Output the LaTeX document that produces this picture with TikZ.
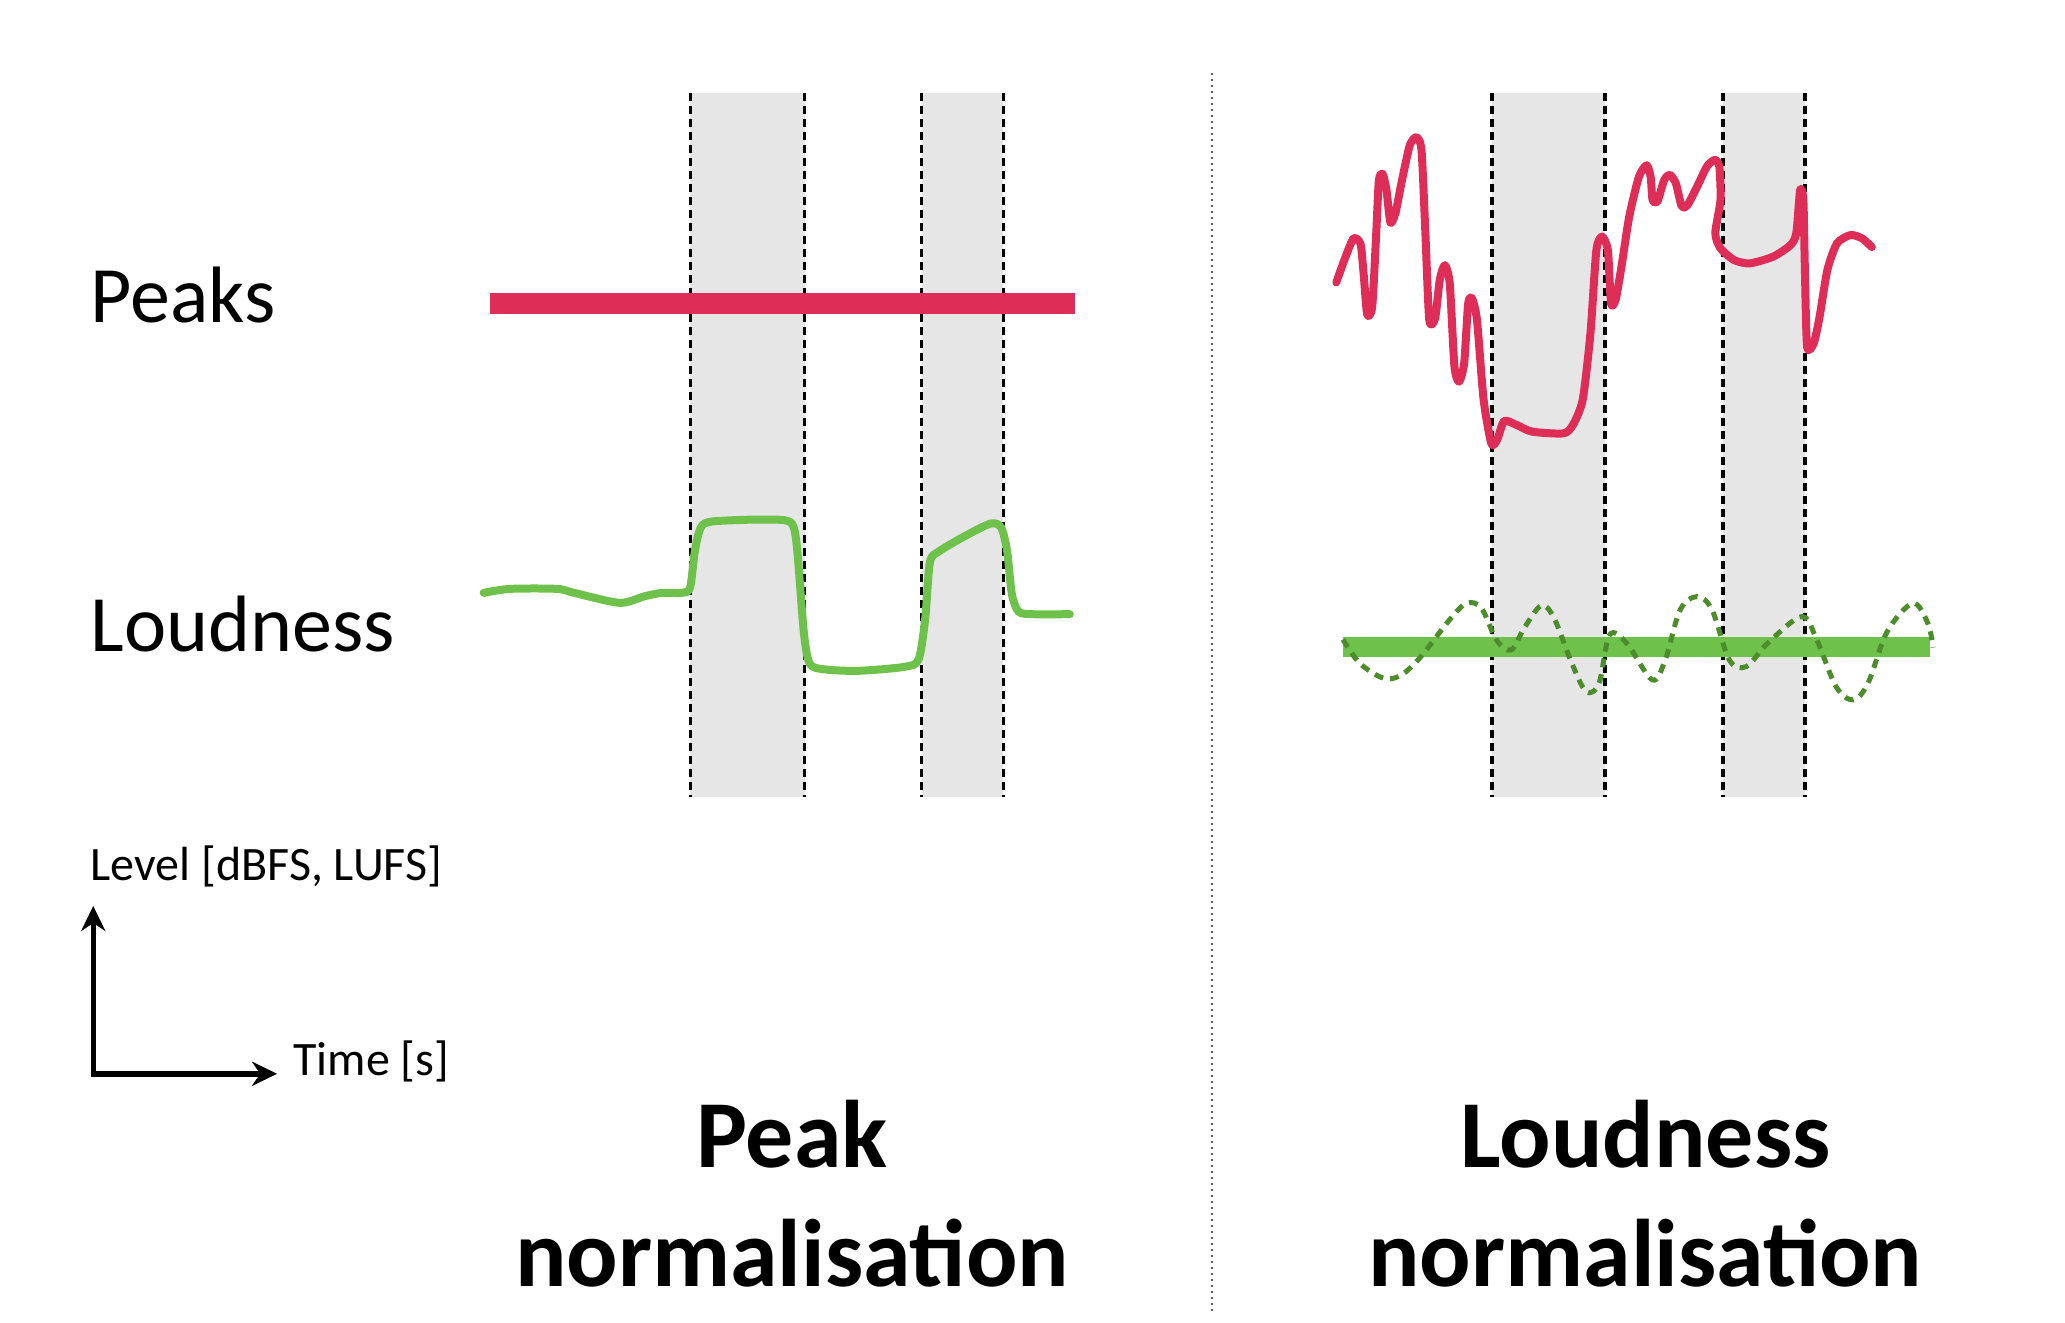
\documentclass[tikz,border=0pt]{standalone}
\usepackage{fontspec}
\setmainfont{Carlito}
\usetikzlibrary{arrows.meta}
\definecolor{pkred}{RGB}{222,45,86}
\definecolor{ldgreen}{RGB}{110,194,75}
\definecolor{dkgreen}{RGB}{76,140,43}
\definecolor{shadegray}{RGB}{230,230,230}
\definecolor{divgray}{RGB}{90,90,90}
\begin{document}
\begin{tikzpicture}[x=1.3323pt,y=-1.3323pt,
  band/.style={fill=shadegray, draw=none},
  edgeline/.style={draw=black, line width=3pt, dash pattern=on 8pt off 5pt},
  edgelineR/.style={draw=black, line width=3.8pt, dash pattern=on 8pt off 5pt},
  sigcurve/.style={line width=8pt, line join=round, line cap=round},
  levelbar/.style={line width=21pt, line cap=butt},
  lbl/.style={inner sep=0pt, anchor=base west, font=\fontsize{80pt}{96pt}\selectfont},
  axlbl/.style={inner sep=0pt, anchor=base west, font=\fontsize{48pt}{58pt}\selectfont},
  ttl/.style={inner sep=0pt, anchor=base, font=\fontsize{96pt}{120pt}\selectfont\bfseries},
  axisline/.style={draw=black, -{Stealth[length=25pt,width=24pt,inset=8pt]}}
]
\useasboundingbox (0,0) rectangle (1550,993);

% shaded bands
\fill[band] (518,70) rectangle (604,598);
\fill[band] (692,70) rectangle (753,598);
\fill[band] (1120,70) rectangle (1205,598);
\fill[band] (1293,70) rectangle (1355,598);

% band edges
\foreach \xx in {518,604,692,753} \draw[edgeline] (\xx,70) -- (\xx,598);
\foreach \xx in {1120,1205,1293,1355} \draw[edgelineR] (\xx,70) -- (\xx,598);

% divider
\coordinate (divtop) at (910,55);
\coordinate (divbot) at (910,985);
\draw[divgray, line width=2pt, dash pattern=on 2pt off 4pt] (divtop) -- (divbot);

% labels
\node[lbl] (peaks) at (68,242) {Peaks};
\node[lbl] (loud) at (68,489) {Loudness};
\node[axlbl] (levellbl) at (68,661) {Level [dBFS, LUFS]};
\node[axlbl] (timelbl) at (220,807) {Time [s]};

% axes
\coordinate (orig) at (70,806);
\coordinate (ytip) at (70,680);
\coordinate (xtip) at (208,806);
\draw[axisline, line width=5pt] ([yshift=-3pt]orig) -- (ytip);
\draw[axisline, line width=6pt] ([xshift=-2.5pt]orig) -- (xtip);

% left panel: flat peaks
\coordinate (pkL) at (368,228);
\coordinate (pkR) at (807,228);
\draw[pkred, levelbar] (pkL) -- (pkR);

% left panel: loudness curve
\draw[ldgreen, sigcurve] plot[smooth, tension=0.45] coordinates {
 (363,445) (383,442) (418,442) (431,445) (465,452.5) (484,447.5) (497,445) (512,445)
 (518,441) (521.5,414) (526,396) (534,391.5) (566,390) (589,390.5) (595.5,395)
 (598.5,414) (603.5,476) (608,498.5) (619.5,502.5) (644.7,503.5) (679,500.5) (689.5,495)
 (694.5,464) (698,422) (704.6,414) (723.5,402.8) (743.5,393) (751.5,396)
 (756,414) (759.5,446) (764.5,459) (774,461) (803,461)};

% right panel: peaks curve
\draw[pkred, sigcurve] plot[smooth, tension=0.4] coordinates {
 (1003,212) (1010,192.7) (1016,178.9) (1021.2,183) (1023.5,205) (1026.2,236) (1030,230)
 (1033,175) (1035,135.1) (1037.8,130.5) (1040.7,142.6) (1043.6,167) (1047.4,160)
 (1052.4,135) (1058.2,109) (1063.2,103) (1067,113) (1069.9,175) (1072.8,240)
 (1077.2,239) (1080.7,210) (1084.5,199) (1088.2,213) (1091.7,275) (1095.2,286.5)
 (1099,272.7) (1102,228) (1104.9,224) (1108.6,240) (1113.6,300) (1119.4,333)
 (1123.8,330) (1129,316) (1138.4,319) (1150,324) (1173.4,325.3) (1180.6,319)
 (1188,300) (1193.8,250) (1198.2,188) (1202.5,177.6) (1206.9,188) (1209.2,227.7)
 (1212.7,225) (1217.1,200) (1222.9,162.6) (1230.2,132.6) (1236,124) (1239,133)
 (1240.4,150) (1244,151.4) (1249.2,135) (1253.5,131.3) (1257.9,137.6) (1262.3,155)
 (1266.6,154) (1273.9,140) (1281.2,125) (1287.1,120) (1290.5,125) (1291.4,150)
 (1287.5,175) (1291.4,186.4) (1301.6,195.2) (1313.3,197.7) (1330.8,192.7)
 (1343.9,184) (1348.3,175) (1351.2,142.6) (1353.6,150) (1354.7,200) (1356.4,260)
 (1361.4,257.7) (1365.8,237.7) (1371.6,202.7) (1378.9,182.6) (1389.1,176.4)
 (1397.8,179) (1405,185.5)};

% right panel: flat loudness
\coordinate (ldL) at (1008,486);
\coordinate (ldR) at (1449,486);
\draw[ldgreen, levelbar, line width=20pt] (ldL) -- (ldR);

% right panel: dashed original loudness
\draw[dkgreen, line width=5pt, dash pattern=on 9pt off 7pt, line cap=butt] plot[smooth, tension=0.55] coordinates {
 (1008,480) (1020.6,497.8) (1038.3,509) (1051.1,507) (1065.5,494) (1088,465.3)
 (1100.8,452.8) (1112,456.5) (1123.2,480.3) (1134.4,487.8) (1144,471.5) (1156.9,454.5)
 (1166.5,464) (1179.3,496.6) (1190.5,519) (1200.2,512.8) (1208.2,476.5) (1221,482.8)
 (1240.2,510.3) (1249.9,495.3) (1261.1,457.8) (1273.9,447.8) (1285.1,457.8)
 (1298,495.3) (1310.8,500.3) (1326.8,482.8) (1352.4,462.8) (1363.7,480.3)
 (1378.1,515.3) (1390.9,525.3) (1402.1,512.8) (1416.6,474) (1435.8,452.8)
 (1447,467.8) (1451,486)};

% titles
\node[ttl] (peakT1) at (594.5,876) {Peak};
\node[ttl] (peakT2) at (594.5,966) {normalisation};
\node[ttl] (loudT1) at (1235,876) {Loudness};
\node[ttl] (loudT2) at (1235,966) {normalisation};
\end{tikzpicture}
\end{document}
